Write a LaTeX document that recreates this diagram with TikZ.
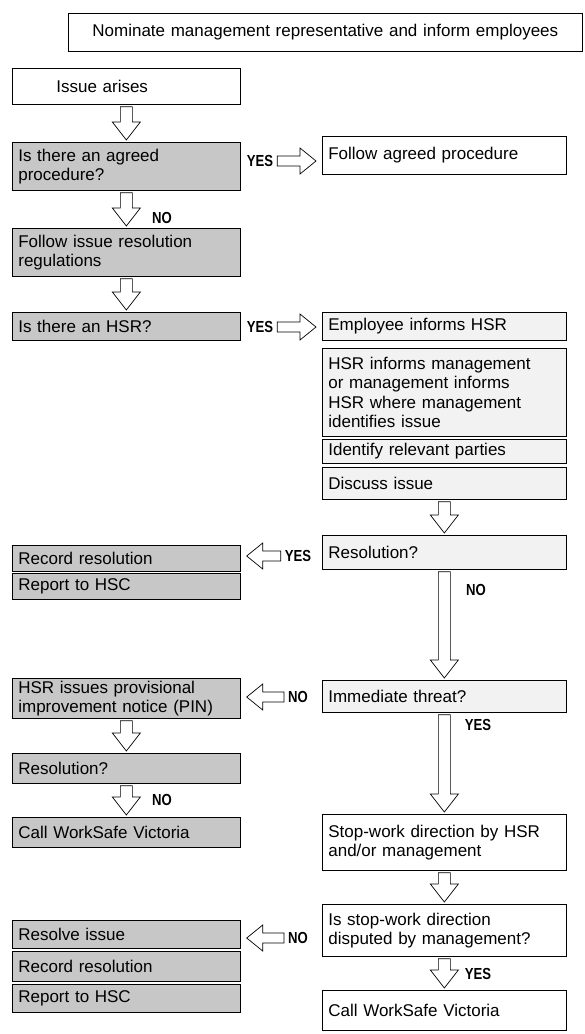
\documentclass[tikz,border=0pt]{standalone}
\usepackage{fontspec}
\setmainfont{Liberation Sans}
\newfontfamily\labfont{Liberation Sans}[FakeStretch=0.82]
\usepackage{tikz}
\usetikzlibrary{calc}

% hollow block arrows between two named nodes
\newcommand{\blockdown}[2]{%
  \draw[blockarrow] let \p1=([yshift=-2pt]#1.south), \p2=([yshift=2pt]#2.north) in
    (\x1-6pt,\y1) -- (\x1+6pt,\y1) -- (\x1+6pt,\y2+18pt) -- (\x1+14pt,\y2+18pt)
    -- (\x1,\y2) -- (\x1-14pt,\y2+18pt) -- (\x1-6pt,\y2+18pt) -- cycle;}
\newcommand{\blockright}[2]{%
  \draw[blockarrow] let \p1=([xshift=4pt]#1.east), \p2=([xshift=-6pt]#2.west) in
    (\x1,\y1+5pt) -- (\x2-16pt,\y1+5pt) -- (\x2-16pt,\y1+13pt) -- (\x2,\y1)
    -- (\x2-16pt,\y1-13pt) -- (\x2-16pt,\y1-5pt) -- (\x1,\y1-5pt) -- cycle;}
\newcommand{\blockleft}[2]{%
  \draw[blockarrow] let \p1=([xshift=-4pt]#1.west), \p2=([xshift=6pt]#2.east) in
    (\x1,\y1+5pt) -- (\x2+16pt,\y1+5pt) -- (\x2+16pt,\y1+13pt) -- (\x2,\y1)
    -- (\x2+16pt,\y1-13pt) -- (\x2+16pt,\y1-5pt) -- (\x1,\y1-5pt) -- cycle;}

\begin{document}
\begin{tikzpicture}[x=1pt,y=-1pt,
  box/.style={draw,line width=0.7pt,anchor=north west,inner xsep=6pt,inner ysep=0pt,
    align=left,font=\fontsize{17}{19.5}\selectfont},
  leftbox/.style={box,fill=black!22,text width=216pt},
  rightbox/.style={box,fill=black!5,text width=232pt},
  plainbox/.style={box,fill=white,text width=232pt},
  lab/.style={inner sep=0pt,font=\labfont\bfseries\fontsize{16}{18}\selectfont},
  blockarrow/.style={draw,fill=white,line width=0.7pt,line join=miter}]
\path[use as bounding box] (0,0) rectangle (584,1034);
\path[fill=white,draw=none] (0,0) rectangle (584,1034);

% top and start
\node[box,fill=white,align=center,text width=502pt,minimum height=38pt] (nominate) at (68,13)
  {Nominate management representative and inform employees};
\node[box,fill=white,inner xsep=44pt,text width=140pt,minimum height=36pt] (issue) at (12,68) {Issue arises};

% left column
\node[leftbox,minimum height=48pt] (agreed) at (12,142) {Is there an agreed\\procedure?};
\node[leftbox,minimum height=48pt] (regs) at (12,228) {Follow issue resolution\\regulations};
\node[leftbox,minimum height=28pt] (hsrq) at (12,312) {Is there an HSR?};
\node[leftbox,minimum height=26pt] (record1) at (12,545) {Record resolution};
\node[leftbox,minimum height=26pt] (report1) at (12,573) {Report to HSC};
\node[leftbox,minimum height=40pt] (pin) at (12,678) {HSR issues provisional\\improvement notice (PIN)};
\node[leftbox,minimum height=30pt] (resleft) at (12,753) {Resolution?};
\node[leftbox,minimum height=30pt] (callleft) at (12,817) {Call WorkSafe Victoria};
\node[leftbox,minimum height=28pt] (resolve) at (12,920) {Resolve issue};
\node[leftbox,minimum height=30pt] (record2) at (12,951) {Record resolution};
\node[leftbox,minimum height=28pt] (report2) at (12,984) {Report to HSC};

% right column
\node[plainbox,minimum height=38pt] (follow) at (322,136) {Follow agreed procedure};
\node[rightbox,minimum height=28pt] (informs) at (322,312) {Employee informs HSR};
\node[rightbox,minimum height=88pt] (hsrinf) at (322,348)
  {HSR informs management\\or management informs\\HSR where management\\identifies issue};
\node[rightbox,minimum height=24pt] (parties) at (322,439) {Identify relevant parties};
\node[rightbox,minimum height=32pt] (discuss) at (322,467) {Discuss issue};
\node[rightbox,minimum height=34pt] (resright) at (322,535) {Resolution?};
\node[rightbox,minimum height=32pt] (threat) at (322,680) {Immediate threat?};
\node[plainbox,minimum height=56pt] (stop) at (322,814) {Stop-work direction by HSR\\and/or management};
\node[plainbox,minimum height=52pt] (disputed) at (322,904) {Is stop-work direction\\disputed by management?};
\node[plainbox,minimum height=40pt] (callright) at (322,990) {Call WorkSafe Victoria};

% labels
\node[lab] (yes1) at (260,161) {YES};
\node[lab] (yes2) at (260,327) {YES};
\node[lab] (yes3) at (298,556) {YES};
\node[lab] (no3) at (298,697) {NO};
\node[lab] (no4) at (298,938) {NO};
\node[lab] (no1) at (162,218) {NO};
\node[lab] (no2) at (162,800) {NO};
\node[lab] (no5) at (476,590) {NO};
\node[lab] (yes4) at (478,725) {YES};
\node[lab] (yes5) at (478,974) {YES};

% arrows
\blockdown{issue}{agreed}
\blockdown{agreed}{regs}
\blockdown{regs}{hsrq}
\blockdown{pin}{resleft}
\blockdown{resleft}{callleft}
\blockdown{discuss}{resright}
\blockdown{resright}{threat}
\blockdown{threat}{stop}
\blockdown{stop}{disputed}
\blockdown{disputed}{callright}
\blockright{yes1}{follow}
\blockright{yes2}{informs}
\blockleft{yes3}{record1}
\blockleft{no3}{pin}
\blockleft{no4}{resolve}
\end{tikzpicture}
\end{document}
